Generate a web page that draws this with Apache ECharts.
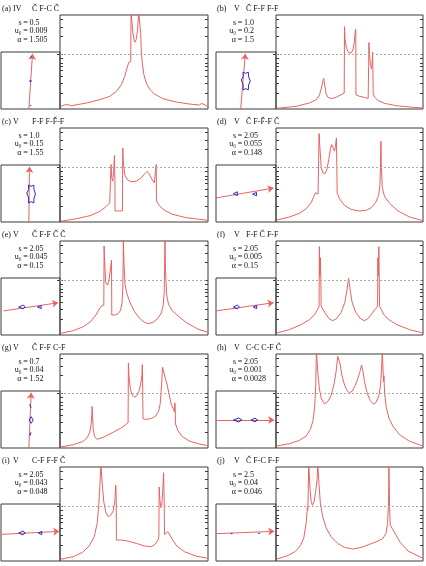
<!DOCTYPE html>
<html><head><meta charset="utf-8">
<script src="https://cdn.jsdelivr.net/npm/echarts@6/dist/echarts.min.js"></script>
<style>html,body{margin:0;padding:0;background:#fff}#c{width:426px;height:566px}</style>
</head><body><div id="c"></div>
<script>
// ---------- text data ----------
const panelLetters = ['(a)','(b)','(c)','(d)','(e)','(f)','(g)','(h)','(i)','(j)'];
const regimes = ['IV','V','V','V','V','V','V','V','V','V'];
const topologies = ['Č F-C Č','Č F-F F-F','F-F F-F\u030C-F','Č F-F\u030C-F Č','Č F-F Č Č','F-F Č F-F','Č F-F C-F','C-C C-F Č','C-F F-F Č','Č F-C F-F'];
const sValues = ['0.5','1.0','1.0','2.05','2.05','2.05','0.7','2.05','2.05','2.5'];
const u0Values = ['0.009','0.2','0.15','0.055','0.045','0.005','0.04','0.001','0.043','0.04'];
const alphaValues = ['1.505','1.5','1.55','0.148','0.15','0.15','1.52','0.0028','0.048','0.046'];
const yTickValues = [17,27,35,41,45,49,54,58.7,77,87,95];
const thresholdLevel = 58.7;

// ---------- light curves ----------
const lcA = [[0.4,2.8],[4.5,4.9],[7.8,3.5],[17.9,6.4],[26.9,9.9],[33.6,13.4],[38.1,18.7],[41.5,25.8],[43.7,34.6],[45.3,43.5],[46.4,49.5],[47.3,51.2],[47.8,50.2],[48.0,103],[48.7,103],[49.3,80.6],[50.0,73.5],[50.5,71],[51.4,73.5],[52.3,82.3],[52.9,94.7],[53.2,103],[54.0,103],[54.5,80.6],[54.9,62.9],[55.6,48.8],[56.7,36.4],[58.3,27.6],[60.5,21.2],[63.9,15.9],[69.5,11],[78.5,7.4],[87.4,5.3],[94.2,4.2],[95.7,6],[96.9,4.2],[100,2.5]];
const lcB = [[0.5,0.7],[13.6,2.8],[22.7,6.4],[27.3,9.9],[29.5,14.5],[30.9,22.3],[31.8,29.3],[32.5,32.5],[33.2,24.7],[34.1,16.3],[35.2,12.7],[37.5,11],[40.9,12.4],[44.3,15.2],[46.4,17],[46.6,87.6],[47.0,73.5],[48.0,64.7],[49.3,60.1],[50.9,59.4],[52.3,62.9],[53.2,70],[53.9,82.3],[54.1,84.8],[54.3,82.3],[54.4,15.2],[56.8,13.4],[60.2,12.4],[62.7,11.3],[63.0,45],[63.2,70.7],[63.6,57.6],[64.3,47],[65.0,42.4],[65.5,52.3],[65.7,60.4],[65.9,45.2],[66.1,17],[67,12.7],[69.3,9.2],[73.9,6],[81.8,3.5],[93.2,1.8],[100,1.1]];
const lcC = [[0.4,0.7],[11.2,3.5],[20.2,6.7],[26.9,11.3],[31.4,16.6],[33.6,20.5],[34.3,22.3],[34.5,61.1],[35.0,47],[35.7,43.5],[36.3,55.8],[36.8,70.7],[37.1,45.2],[37.2,11.7],[39.7,11.7],[42.2,12],[42.4,78.8],[42.8,62.9],[43.7,50.5],[45.3,45.2],[48.2,42.8],[51.6,43.5],[55,47],[57.2,51.2],[58.7,53.7],[60.1,51.6],[61.9,45.9],[63.7,41.7],[64.8,39.9],[65.0,61.1],[65.2,22.3],[67.3,17],[70.6,12.4],[76.2,8.1],[85.2,4.6],[94.2,2.8],[100,1.8]];
const lcD = [[0.5,2.1],[9.1,5.3],[15.9,9.2],[20.5,14.1],[23.9,20.5],[25.7,26.9],[26.8,31.1],[27.7,31.8],[28.6,29.7],[29.1,31.1],[29.3,94],[29.8,80.6],[30.7,59.4],[31.8,52.3],[33.2,51.2],[34.5,55.1],[35.9,66.4],[37.0,77.7],[37.9,82.3],[38.9,80.6],[39.8,75.3],[40.5,80.6],[41.1,89.4],[41.4,59.4],[41.6,31.1],[43.2,24.7],[46.6,17.7],[51.1,13.4],[56.8,11.7],[61.4,12.4],[64.8,15.2],[67.7,20.5],[69.8,28.3],[70.7,39.9],[71.1,62.9],[71.4,85.9],[71.6,62.9],[72.3,36.4],[73.9,26.9],[77.3,19.8],[83,11.7],[90.9,5.3],[100,1.4]];
const lcE = [[0.4,1.8],[9.0,4.6],[15.7,8.8],[20.6,14.1],[24.2,21.2],[26.5,27.6],[27.8,30.4],[28.9,30.4],[29.6,31.8],[29.8,94.7],[30.3,73.5],[30.9,55.8],[32.1,53],[33.2,59.4],[34.1,70],[34.8,79.5],[35.0,21.2],[37,21.2],[39.2,22.6],[40.8,25.8],[41.9,33.9],[42.4,48.8],[42.7,78.8],[42.8,103],[43.0,103],[43.3,73.5],[43.9,54.1],[45.3,43.5],[47.5,33.9],[50.4,24.7],[53.8,17.7],[57.2,13.4],[60.1,12],[63.2,13.8],[66.1,17.7],[68.4,23.3],[69.7,31.1],[70.4,45.2],[70.7,73.5],[70.9,103],[71.1,103],[71.3,70],[72.0,43.5],[73.3,32.9],[75.8,25.8],[79.6,20.5],[85.2,13.4],[93,6.4],[100,2.8]];
const lcF = [[0.5,2.1],[9.1,5.7],[17.0,11],[22.7,16.3],[26.1,21.2],[28.2,26.9],[29.3,30.4],[29.5,94],[29.8,62.9],[30.2,82.3],[30.5,62.9],[30.7,31.1],[31.8,27.6],[34.1,21.6],[36.4,17],[38.6,15.2],[41.4,17.7],[44.3,24],[46.8,34.6],[48.2,47],[48.9,55.8],[49.3,60.1],[49.8,55.8],[50.5,47],[51.8,34.6],[54.3,24],[57.3,17.7],[60,15.2],[62.3,17],[65,22.3],[67.3,26.9],[69.1,30.4],[69.3,82.3],[69.5,62.9],[70,94],[70.2,62.9],[70.5,30.4],[71.6,26.9],[73.6,21.2],[76.8,16.3],[82.3,11],[90.9,5.7],[100,2.1]];
const lcG = [[0.4,1.1],[9.0,3.5],[15.2,6.7],[18.4,11],[20.2,17],[21.1,25.8],[21.5,36.4],[21.7,44.2],[22.0,34.6],[22.4,20.5],[23.3,12.4],[25.1,9.2],[29.1,11.3],[35.9,16.6],[42.6,22.6],[46.0,26.9],[46.2,90.5],[46.6,77],[47.5,62.9],[48.9,55.8],[50.4,54.1],[52,55.8],[53.6,61.1],[54.7,70],[55.4,77.7],[55.6,88.7],[55.8,73.5],[56.1,31.1],[58.3,30.4],[61.7,31.4],[64.6,33.9],[66.6,38.9],[67.7,47],[68.6,66.4],[69.3,85.9],[69.7,87.6],[70.4,84.1],[71.3,73.5],[72.4,67.1],[73.5,58.7],[75.1,47],[76.5,41.7],[77.4,38.2],[77.6,48.1],[77.8,45.2],[78.0,25.8],[79.6,18.7],[82.5,12.4],[87.4,7.4],[94.2,4.2],[100,2.5]];
const lcH = [[0.5,2.1],[9.1,4.6],[15.9,8.1],[20.5,12.7],[23.4,19.8],[25.2,29.3],[26.4,45.2],[27.0,66.4],[27.5,103],[28.0,103],[28.6,77],[29.5,62.9],[30.9,52.3],[33,47],[35.2,49.5],[37.5,55.8],[39.5,68.2],[40.9,81.3],[42.0,97.5],[42.7,98.2],[43.6,89.4],[44.8,77.7],[46.4,68.2],[48.2,61.1],[50,58.7],[51.8,60.4],[53.9,66.4],[55.7,74.2],[57.0,80.6],[58.2,88.3],[58.6,89.4],[59.1,82.3],[60.2,70.7],[62,58.3],[64.1,50.5],[66.4,46.6],[68.2,48.8],[70,55.8],[71.1,66.4],[71.8,84.1],[72.3,103],[72.7,103],[73.0,77],[73.2,70.7],[73.4,77],[73.9,57.6],[75,43.5],[76.8,31.8],[79.5,23.3],[84.1,14.1],[90.9,7.1],[100,2.1]];
const lcI = [[0.4,1.8],[9.0,4.6],[15.2,9.2],[19.7,15.9],[23.1,25.8],[25.1,39.9],[26.2,59.4],[27.1,84.1],[27.6,103],[28.0,103],[28.7,78.8],[29.6,62.9],[30.9,52.3],[32.5,47.3],[34.3,48.8],[35.9,53],[37,62.9],[37.7,80.6],[38.0,66.4],[38.1,22.3],[41.5,22.3],[46.0,21.2],[51.6,18.7],[57.2,15.9],[61.7,15.2],[64.3,17.7],[66.1,21.9],[66.8,25.8],[67.0,78.8],[67.5,64.7],[68.2,56.5],[68.8,59.4],[69.5,77],[70.0,94],[70.4,62.9],[70.6,28.3],[71.7,29.7],[72.9,31.1],[74.0,29.7],[75.8,23.3],[78.9,15.9],[84.1,9.9],[91.9,5.3],[100,2.8]];
const lcJ = [[0.5,2.1],[8.0,5.7],[13.2,10.2],[16.6,16.3],[18.9,24.7],[20.5,39.9],[21.4,57.6],[21.6,54.1],[21.8,62.9],[22.0,84.1],[22.3,103],[22.7,103],[23.2,75.3],[23.9,63.6],[24.8,59.4],[25.9,62.9],[27.0,74.2],[28.0,87.6],[28.4,103],[28.9,103],[29.3,80.6],[30.2,61.1],[31.8,47],[34.1,35.3],[37.5,25.8],[42,18.7],[46.6,14.5],[52.3,12.7],[58,14.5],[63.6,17.7],[69.3,21.2],[72.7,24],[74.8,29.3],[75.9,39.9],[76.6,62.9],[76.8,103],[77.0,103],[77.3,55.8],[77.7,38.2],[79.1,34.6],[81.4,28.3],[84.5,19.8],[89.8,10.6],[100,2.8]];

// ---------- inset geometry (source trajectories and caustics) ----------
const trajA = [[47.2,0],[53.4,97]];
const trajB = [[41.1,0],[48.9,97]];
const trajC = [[47.2,0],[48.3,97]];
const trajD = [[0,42.2],[96,59.5]];
const trajE = [[4.5,42.2],[97,56.6]];
const trajF = [[0,42.2],[96,56.6]];
const trajG = [[47.2,0],[51.1,97]];
const trajH = [[0,49.1],[97,49.1]];
const trajI = [[1.7,46.8],[98.9,52]];
const trajJ = [[1.1,48],[97.2,52]];

const causticsA = [
  [[48.2,49],[50,52],[51.8,49],[50,46],[48.2,49]],
  [[50,91.5],[51.1,93],[52.2,91.5],[51.1,90],[50,91.5]],
  [[49,6],[50,7.5],[51,6],[50,4.5],[49,6]]
];
const causticsB = [
  [[45,64.7],[49.5,62.5],[53.9,64.7],[54.3,56.5],[57.2,49.1],[54.3,42],[53.9,33.5],[49.5,35.7],[45,33.5],[45.3,42],[42.2,50.9],[45.3,57],[45,64.7]]
];
const causticsC = [
  [[46.6,64.7],[51,62.5],[55.6,64.7],[56,56.5],[58.4,49.1],[56,42],[55.6,33.5],[51,35.7],[46.6,33.5],[46.9,42],[43.8,50.9],[46.9,57],[46.6,64.7]]
];
const causticsD = [
  [[29,49.7],[35.5,53],[38,50.2],[35.5,46.5],[29,49.7]],
  [[61,49],[67.5,52],[70.5,49.2],[67.5,46],[61,49]]
];
const causticsE = [
  [[30,49],[37.5,52.5],[41,49.3],[37.5,45.8],[30,49]],
  [[62,49],[68,52],[70.8,49.2],[68,46.2],[62,49]]
];
const causticsF = [
  [[29,49],[35.5,52.5],[39,49.2],[35.5,45.8],[29,49]],
  [[62.2,49],[67.8,52],[70.6,49.2],[67.8,46.2],[62.2,49]]
];
const causticsG = [
  [[47.8,49],[51.1,55],[54.5,49],[51.1,43.4],[47.8,49]],
  [[49,76],[52.2,76],[50.6,71],[49,76]],
  [[49,22],[52.2,22],[50.6,27],[49,22]]
];
const causticsH = [
  [[29,49],[38,52.5],[43.3,49.2],[38,45.8],[29,49]],
  [[58.3,49],[65,52.2],[69.4,49.2],[65,46],[58.3,49]]
];
const causticsI = [
  [[30,49],[37,52.5],[41,49.3],[37,45.8],[30,49]],
  [[63.5,49],[69,52],[71.9,49.2],[69,46.2],[63.5,49]]
];
const causticsJ = [
  [[24.5,48],[26,49.5],[27.5,48],[26,46.5],[24.5,48]],
  [[70.5,48.5],[72,50],[73.5,48.5],[72,47],[70.5,48.5]]
];

const lightCurves = [lcA,lcB,lcC,lcD,lcE,lcF,lcG,lcH,lcI,lcJ];
const trajectories = [trajA,trajB,trajC,trajD,trajE,trajF,trajG,trajH,trajI,trajJ];
const caustics = [causticsA,causticsB,causticsC,causticsD,causticsE,causticsF,causticsG,causticsH,causticsI,causticsJ];

// ---------- layout & style ----------
const LC_COLOR = '#e86262';
const CAUSTIC_COLOR = '#2b2bd0';
const FRAME = '#3a3a3a';
const FONT = '8px "Liberation Serif", "DejaVu Serif", serif';
const colLC = [{left:60,width:148},{left:276,width:147}];
const colIn = [{left:1,width:59},{left:216,width:60}];
const titleX = [[2,13,32],[217,234,246]];
const eqX = [25.5,240];
const ROW0 = 15, ROWH = 113, LCH = 94, INSET_OFF = 37, INH = 57;

const grids=[], xAxes=[], yAxes=[], series=[], graphics=[];
function txt(x,y,text,align){
  return {type:'text', x:x, y:y, silent:true,
    style:{text:text, font:FONT, fill:'#111', align:align, verticalAlign:'middle', textAlign:align, textVerticalAlign:'middle'}};
}
lightCurves.forEach((lc,i)=>{
  const col=i%2, row=Math.floor(i/2);
  const top=ROW0+ROWH*row;
  const gLC = grids.length;
  grids.push({left:colLC[col].left, top:top, width:colLC[col].width, height:LCH, show:true, borderColor:FRAME, borderWidth:1, containLabel:false});
  const gIn = grids.length;
  grids.push({left:colIn[col].left, top:top+INSET_OFF, width:colIn[col].width, height:INH, show:true, borderColor:FRAME, borderWidth:1, containLabel:false});
  const xLC = xAxes.length;
  xAxes.push({type:'value', gridIndex:gLC, min:0, max:100, show:false});
  const xIn = xAxes.length;
  xAxes.push({type:'value', gridIndex:gIn, min:0, max:100, show:false});
  const yLC = yAxes.length;
  const tickAxis = (pos, inside, vals)=>({type:'value', gridIndex:gLC, min:0, max:100, position:pos,
    axisLine:{show:false}, axisLabel:{show:false}, splitLine:{show:false},
    axisTick:{show:true, inside:inside, length:3, customValues:vals, lineStyle:{color:FRAME, width:1}}});
  yAxes.push(tickAxis('left', true, yTickValues));
  yAxes.push(tickAxis('right', true, yTickValues));
  yAxes.push(tickAxis('left', false, [thresholdLevel]));
  const yIn = yAxes.length;
  yAxes.push({type:'value', gridIndex:gIn, min:0, max:100, show:false});

  series.push({type:'line', xAxisIndex:xLC, yAxisIndex:yLC, data:lc, showSymbol:false, symbol:'none',
    lineStyle:{color:LC_COLOR, width:1}, itemStyle:{color:LC_COLOR}, clip:true, animation:false, z:3,
    markLine:{silent:true, symbol:'none', animation:false, label:{show:false},
      lineStyle:{color:'#aaaaaa', width:1, type:[2,2]}, data:[{yAxis:thresholdLevel}]}});
  series.push({type:'lines', coordinateSystem:'cartesian2d', xAxisIndex:xIn, yAxisIndex:yIn,
    data:[{coords:trajectories[i]}], symbol:['none','arrow'], symbolSize:6, polyline:false,
    lineStyle:{color:LC_COLOR, width:1, opacity:1}, animation:false, z:3});
  caustics[i].forEach(poly=>{
    series.push({type:'line', xAxisIndex:xIn, yAxisIndex:yIn, data:poly, showSymbol:false, symbol:'none',
      lineStyle:{color:CAUSTIC_COLOR, width:1}, itemStyle:{color:CAUSTIC_COLOR}, animation:false, z:4});
  });

  const ty = top-5.8;
  graphics.push(txt(titleX[col][0], ty, panelLetters[i], 'left'));
  graphics.push(txt(titleX[col][1], ty, regimes[i], 'left'));
  graphics.push(txt(titleX[col][2], ty, topologies[i], 'left'));
  const names = ['s','u\u2080','\u03b1'];
  const vals = [sValues[i], u0Values[i], alphaValues[i]];
  const ys = [top+7.5, top+16, top+25];
  for(let k=0;k<3;k++){
    graphics.push(txt(eqX[col]-4, ys[k], names[k], 'right'));
    graphics.push(txt(eqX[col], ys[k], '=', 'center'));
    graphics.push(txt(eqX[col]+4, ys[k], vals[k], 'left'));
  }
});

const chart = echarts.init(document.getElementById('c'), null, {renderer:'canvas', width:426, height:566});
chart.setOption({
  animation:false,
  backgroundColor:'#fff',
  grid:grids, xAxis:xAxes, yAxis:yAxes, series:series,
  graphic:{elements:graphics}
});
</script>
</body></html>
